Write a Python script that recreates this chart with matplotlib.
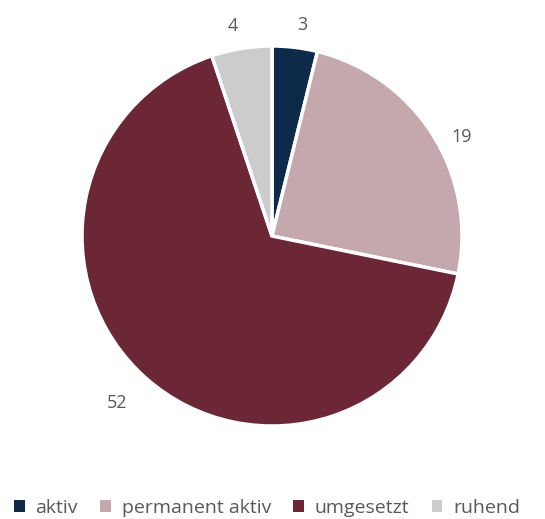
import matplotlib
matplotlib.use("Agg")
import matplotlib.pyplot as plt
from matplotlib.patches import Patch

categories = ["aktiv", "permanent aktiv", "umgesetzt", "ruhend"]
values = [3, 19, 52, 4]
colors = ["#0e2a4a", "#c4a8ae", "#6b2735", "#cccccc"]

plt.rcParams['font.family'] = ['Open Sans', 'DejaVu Sans']

W, H = 545, 519
fig = plt.figure(figsize=(W / 100, H / 100), dpi=100)
cx, cy, r = 272, 236, 190
ax = fig.add_axes([(cx - r) / W, (H - cy - r) / H, 2 * r / W, 2 * r / H])
wedges, texts = ax.pie(values, colors=colors, startangle=90, counterclock=False,
                       labels=[str(v) for v in values], labeldistance=1.12,
                       wedgeprops=dict(edgecolor="white", linewidth=2.5),
                       textprops=dict(color="#595959", fontsize=13))
# nudge labels slightly, like the reference
x19, y19 = texts[1].get_position()
texts[1].set_position((x19, y19 - 0.08))
x52, y52 = texts[2].get_position()
texts[2].set_position((x52 - 0.02, y52 - 0.04))
ax.set_xlim(-1, 1)
ax.set_ylim(-1, 1)
ax.set_aspect("equal")

handles = [Patch(facecolor=c, edgecolor="none") for c in colors]
fig.legend(handles, categories, loc="center", bbox_to_anchor=(0.49, 1 - 508 / H),
           ncol=4, frameon=False, fontsize=14, labelcolor="#595959",
           handlelength=0.55, handleheight=0.55, handletextpad=0.55,
           columnspacing=1.15, borderpad=0.1)

fig.savefig("out.png", dpi=100)
